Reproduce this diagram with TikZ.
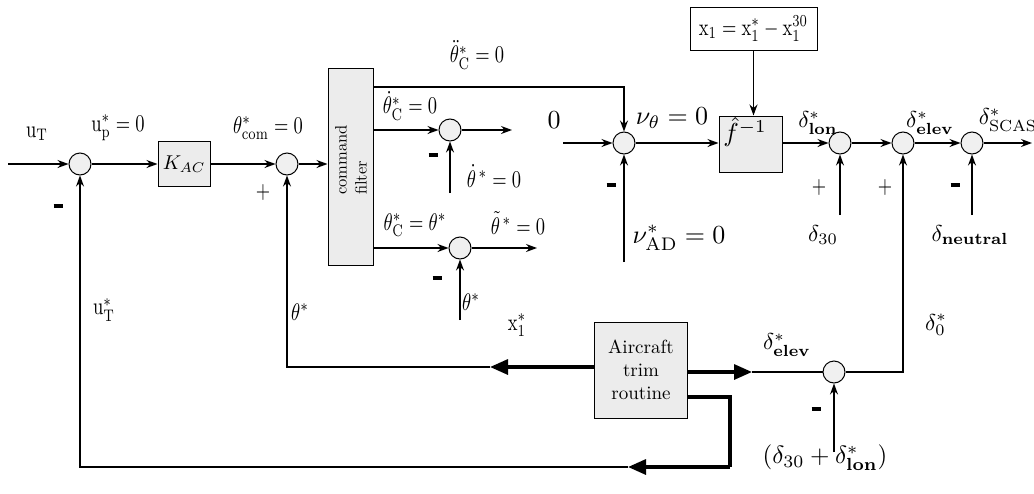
\documentclass[tikz,border=0pt]{standalone}
\usepackage{amsmath}
\usetikzlibrary{arrows.meta}
\begin{document}
\begin{tikzpicture}[x=1pt,y=-1pt,
  sumnode/.style={circle,draw,line width=1pt,fill=gray!12,minimum size=22pt,inner sep=0pt},
  blk/.style={draw,line width=1pt,fill=gray!15,inner sep=0pt},
  sig/.style={-{Stealth[length=11pt,width=8pt]},line width=1.1pt},
  thk/.style={line width=3.2pt},
  thkarrow/.style={-{Triangle[length=18pt,width=15pt]},line width=3.2pt},
  lab/.style={xscale=1.85,yscale=2.4,inner sep=0pt},
  dlab/.style={scale=2.3,inner sep=0pt},
  nlab/.style={scale=2.6,inner sep=0pt},
  mns/.style={inner sep=0pt}]
\useasboundingbox (0,0) rectangle (1034,493);
% nodes
\node[sumnode] (s1) at (80,164) {};
\node[blk,minimum width=52pt,minimum height=45pt] (kac) at (184,164) {};
\node[scale=2,inner sep=0pt] (kact) at (kac.center) {$K_{AC}$};
\node[sumnode] (s2) at (287,164) {};
\node[blk,minimum width=45pt,minimum height=197pt] (cf) at (350.5,166.5) {};
\node[rotate=90,scale=1.65,align=left,inner sep=0pt] (cft) at (351,160) {command\\filter};
\node[sumnode] (s4) at (450,130) {};
\node[sumnode] (s5) at (460,248) {};
\node[sumnode] (s3) at (624,143) {};
\node[blk,minimum width=63pt,minimum height=56pt] (finv) at (750.5,144) {};
\node[draw,line width=1pt,fill=white,minimum width=127pt,minimum height=43pt,inner sep=0pt] (xbox) at (753.5,28.5) {};
\node[lab] (xboxt) at (xbox.center) {$\mathrm{x}_1=\mathrm{x}_1^{*}-\mathrm{x}_1^{30}$};
\node[sumnode] (s7) at (840,143) {};
\node[sumnode] (s8) at (903,143) {};
\node[sumnode] (s9) at (972,143) {};
\node[blk,minimum width=93pt,minimum height=96pt] (trim) at (641,370) {};
\node[scale=1.9,align=center,inner sep=0pt] (trimt) at (trim.center) {Aircraft\\trim\\routine};
\node[sumnode] (s6) at (834,372) {};
% free ends and bends
\coordinate (in) at (8,164);
\coordinate (top) at (374,87);
\coordinate (out4) at (512,130);
\coordinate (in4) at (450,193);
\coordinate (out5) at (537,248);
\coordinate (in5) at (460,320);
\coordinate (in0) at (563,143);
\coordinate (inAD) at (624,262);
\coordinate (in30) at (840,215);
\coordinate (inN) at (972,215);
\coordinate (out9) at (1032,143);
\coordinate (inD) at (834,452);
\coordinate (ra) at (752,372);
\coordinate (la) at (490,367);
\coordinate (tb) at (687,397);
\coordinate (bc) at (730,467);
\coordinate (ba) at (628,467);
% connectors
\draw[sig] (in) -- (s1);
\draw[sig] (s1) -- (kac);
\draw[sig] (kac) -- (s2);
\draw[sig] (s2) -- (s2 -| cf.west);
\draw[sig] (top) -| (s3);
\draw[sig] (cf.east |- s4) -- (s4);
\draw[sig] (s4) -- (out4);
\draw[sig] (in4) -- (s4);
\draw[sig] (cf.east |- s5) -- (s5);
\draw[sig] (s5) -- (out5);
\draw[sig] (in5) -- (s5);
\draw[sig] (in0) -- (s3);
\draw[sig] (inAD) -- (s3);
\draw[sig] (s3) -- (s3 -| finv.west);
\draw[sig] (xbox.south) -- (xbox.south |- finv.north);
\draw[sig] (finv.east |- s7) -- (s7);
\draw[sig] (s7) -- (s8);
\draw[sig] (s8) -- (s9);
\draw[sig] (s9) -- (out9);
\draw[sig] (in30) -- (s7);
\draw[sig] (inN) -- (s9);
\draw[thkarrow] (trim.east |- s6) -- (ra);
\draw[line width=1.1pt] (ra) -- (s6);
\draw[sig] (s6) -| (s8);
\draw[sig] (inD) -- (s6);
\draw[thkarrow] (trim.west |- la) -- (la);
\draw[sig] (la) -| (s2);
\draw[thk] (tb) -| (bc);
\draw[thkarrow] (bc) -- (ba);
\draw[sig] (ba) -| (s1);
% labels
\node[lab] at (37,134) {$\mathrm{u}_{\mathrm{T}}$};
\node[lab] at (118,128) {$\mathrm{u}_{\mathrm{p}}^{*}=0$};
\node[lab] at (268,128) {$\theta^{*}_{\mathrm{com}}=0$};
\node[lab] at (477,55) {$\ddot\theta^{*}_{\mathrm{C}}=0$};
\node[lab] at (410,106) {$\dot\theta^{*}_{\mathrm{C}}=0$};
\node[lab] at (494,176) {$\dot\theta^{\,*}=0$};
\node[lab] at (415,225) {$\theta^{*}_{\mathrm{C}}=\theta^{*}$};
\node[lab] at (518,223) {$\tilde\theta^{\,*}=0$};
\node[lab] at (471,302) {$\theta^{*}$};
\node[lab] at (300,312) {$\theta^{*}$};
\node[lab] at (517,325) {$\mathrm{x}_1^{*}$};
\node[lab] at (104,310) {$\mathrm{u}_{\mathrm{T}}^{*}$};
\node[nlab] at (554,120) {$0$};
\node[nlab] at (672,118) {$\nu_{\theta}=0$};
\node[nlab] at (679,238) {$\nu^{*}_{\mathrm{AD}}=0$};
\node[nlab] at (745,132) {$\hat f^{-1}$};
\node[dlab] at (818,123) {$\delta^{*}_{\mathbf{lon}}$};
\node[dlab] at (930,123) {$\delta^{*}_{\mathbf{elev}}$};
\node[dlab] at (1008,120) {$\delta^{*}_{\mathrm{SCAS}}$};
\node[dlab] at (823,235) {$\delta_{30}$};
\node[dlab] at (970,235) {$\delta_{\mathbf{neutral}}$};
\node[dlab] at (787,345) {$\delta^{*}_{\mathbf{elev}}$};
\node[dlab] at (936,325) {$\delta^{*}_{0}$};
\node[scale=2.5,inner sep=0pt] at (825,458) {$\left(\delta_{30}+\delta^{*}_{\mathbf{lon}}\right)$};
\node[lab] at (263,192) {$+$};
\node[lab] at (819,187) {$+$};
\node[lab] at (885,187) {$+$};
\node[mns] at (58,206) {\rule{9pt}{3.5pt}};
\node[mns] at (433,155) {\rule{9pt}{3.5pt}};
\node[mns] at (437,278) {\rule{9pt}{3.5pt}};
\node[mns] at (611,185) {\rule{9pt}{3.5pt}};
\node[mns] at (955,185) {\rule{9pt}{3.5pt}};
\node[mns] at (816,409) {\rule{9pt}{3.5pt}};
\end{tikzpicture}
\end{document}
